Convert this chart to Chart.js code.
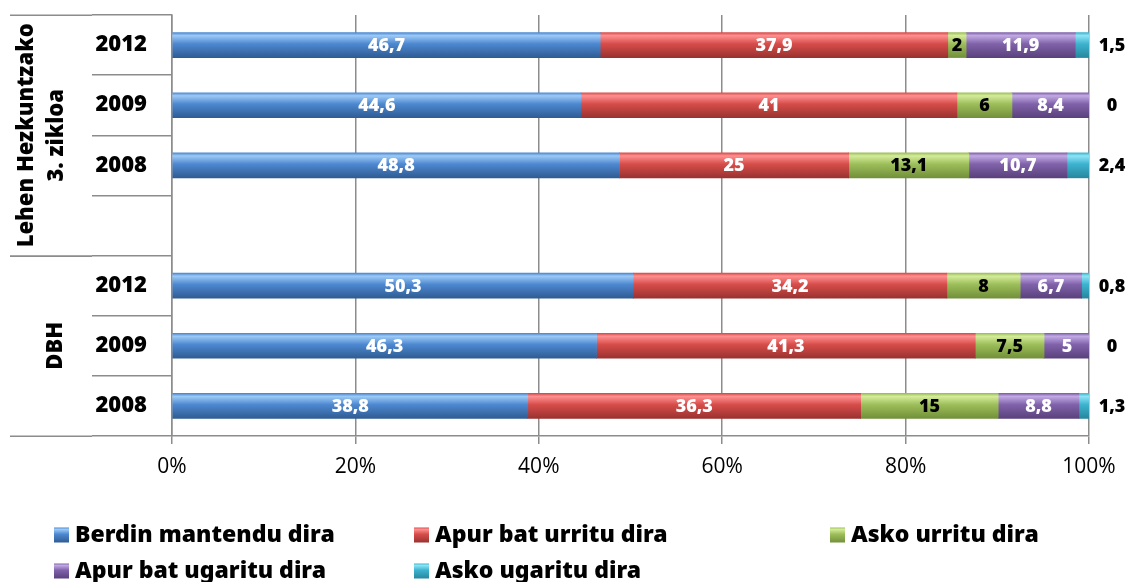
<!DOCTYPE html>
<html>
<head>
<meta charset="utf-8">
<script src="https://cdn.jsdelivr.net/npm/chart.js@4.4.0/dist/chart.umd.min.js"></script>
<style>
  html, body { margin: 0; padding: 0; background: #fff; overflow: hidden; }
  canvas { display: block; }
</style>
</head>
<body>
<canvas id="chart" width="1129" height="582"></canvas>
<script>
// rows, top to bottom; the blank row splits the two school levels
var years = ['2012', '2009', '2008', '', '2012', '2009', '2008'];
var berdin      = [46.7, 44.6, 48.8, null, 50.3, 46.3, 38.8];
var apurUrritu  = [37.9, 41,   25,   null, 34.2, 41.3, 36.3];
var askoUrritu  = [2,    6,    13.1, null, 8,    7.5,  15];
var apurUgaritu = [11.9, 8.4,  10.7, null, 6.7,  5,    8.8];
var askoUgaritu = [1.5,  0,    2.4,  null, 0.8,  0,    1.3];
var seriesNames = ['Berdin mantendu dira', 'Apur bat urritu dira', 'Asko urritu dira',
                   'Apur bat ugaritu dira', 'Asko ugaritu dira'];
var groups = [
  { lines: ['Lehen Hezkuntzako', '3. zikloa'], from: 0, to: 3 },
  { lines: ['DBH'], from: 4, to: 6 }
];

// light / mid / dark for each series
var shades = [
  ['#9ccaf7', '#4d88d0', '#2f5c93'],
  ['#ff9090', '#d64d4a', '#9a3230'],
  ['#d4ec9a', '#9dbe5a', '#72903a'],
  ['#c2aae4', '#8062aa', '#5a417c'],
  ['#8ee4f6', '#3db3cf', '#27879f']
];
var BAR = 25;
var GRID = '#8c8c8c';
var BOLD = '"Noto Sans", "DejaVu Sans", sans-serif';

function fillFor(i, chart, top, h) {
  var g = chart.ctx.createLinearGradient(0, top, 0, top + h);
  g.addColorStop(0, shades[i][1]);
  g.addColorStop(0.12, shades[i][0]);
  g.addColorStop(0.45, shades[i][1]);
  g.addColorStop(1, shades[i][2]);
  return g;
}

function barFill(i) {
  return function (ctx) {
    var chart = ctx.chart;
    var y = chart.scales.y;
    if (!y || !chart.chartArea || ctx.dataIndex === undefined) return shades[i][1];
    var c = y.getPixelForValue(ctx.dataIndex);
    return fillFor(i, chart, c - BAR / 2, BAR);
  };
}

function fmt(v) { return String(v).replace('.', ','); }

var allSeries = [berdin, apurUrritu, askoUrritu, apurUgaritu, askoUgaritu];
var datasets = allSeries.map(function (d, i) {
  return {
    label: seriesNames[i],
    data: d,
    backgroundColor: barFill(i),
    borderWidth: 0,
    barThickness: BAR
  };
});

var extras = {
  id: 'extras',
  afterDraw: function (chart) {
    var c = chart.ctx, y = chart.scales.y, area = chart.chartArea;
    c.save();

    // outer separators of the group axis
    c.strokeStyle = GRID;
    c.lineWidth = 1.5;
    var edges = [];
    groups.forEach(function (g) { edges.push(g.from - 0.5, g.to + 0.5); });
    edges.forEach(function (e) {
      var py = Math.round(y.getPixelForValue(e)) + 0.25;
      c.beginPath();
      c.moveTo(10, py);
      c.lineTo(area.left - 80, py);
      c.stroke();
    });

    // group names, rotated
    c.fillStyle = '#000';
    c.font = '900 22px ' + BOLD;
    c.textAlign = 'center';
    c.textBaseline = 'middle';
    groups.forEach(function (g) {
      var mid = (y.getPixelForValue(g.from - 0.5) + y.getPixelForValue(g.to + 0.5)) / 2;
      var xs = g.lines.length === 2 ? [27, 57] : [56];
      g.lines.forEach(function (t, k) {
        c.save();
        c.translate(xs[k], mid);
        c.rotate(-Math.PI / 2);
        c.fillText(t, 0, 0);
        c.restore();
      });
    });

    // value labels
    c.font = '900 18px ' + BOLD;
    chart.data.datasets.forEach(function (ds, i) {
      var meta = chart.getDatasetMeta(i);
      meta.data.forEach(function (bar, j) {
        var v = ds.data[j];
        if (v === null) return;
        var p = bar.getProps(['x', 'y', 'base'], true);
        var last = i === chart.data.datasets.length - 1;
        var x = last ? area.right + 23 : (p.x + p.base) / 2;
        c.fillStyle = (i === 2 || last) ? '#000' : '#fff';
        c.fillText(fmt(v), x, p.y + 1);
      });
    });

    // legend in three columns
    var cols = [54, 414, 830], rows = [535, 571];
    c.font = '900 23px ' + BOLD;
    c.textAlign = 'left';
    chart.data.datasets.forEach(function (ds, i) {
      var x = cols[i % 3], yy = rows[Math.floor(i / 3)];
      c.fillStyle = fillFor(i, chart, yy - 7.5, 15);
      c.fillRect(x, yy - 7.5, 15, 15);
      c.fillStyle = '#000';
      c.fillText(ds.label, x + 21, yy);
    });

    c.restore();
  }
};

function draw() {
  new Chart(document.getElementById('chart'), {
    type: 'bar',
    data: { labels: years, datasets: datasets },
    options: {
      indexAxis: 'y',
      responsive: false,
      animation: false,
      layout: { padding: { top: 15, right: 40, left: 0, bottom: 0 } },
      plugins: { legend: { display: false }, tooltip: { enabled: false } },
      scales: {
        x: {
          stacked: true,
          min: 0,
          max: 100,
          ticks: {
            stepSize: 20,
            color: '#000',
            padding: 10,
            font: { family: '"Open Sans", Lato, sans-serif', size: 21 },
            callback: function (v) { return v + '%'; }
          },
          grid: { color: GRID, lineWidth: 1.5, tickLength: 8 },
          border: { color: GRID, width: 1.5 },
          afterFit: function (s) { s.height = 146; }
        },
        y: {
          stacked: true,
          grid: { drawOnChartArea: false, tickLength: 80, color: GRID, lineWidth: 1.5 },
          border: { color: GRID, width: 1.5 },
          ticks: {
            color: '#000',
            padding: -55,
            font: { family: BOLD, size: 22, weight: '900' }
          },
          afterFit: function (s) { s.width = 172; }
        }
      }
    },
    plugins: [extras]
  });
}

Promise.all([
  document.fonts.load('900 22px "Noto Sans"'),
  document.fonts.load('21px "Open Sans"')
]).then(draw, draw);
</script>
</body>
</html>
